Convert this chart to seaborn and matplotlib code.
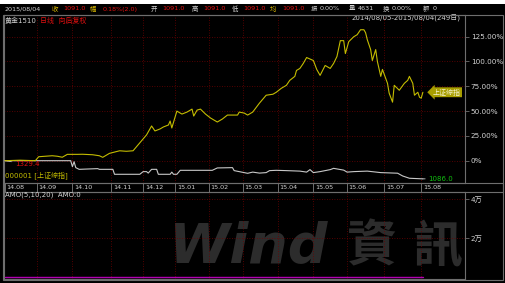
import numpy as np
import pandas as pd
import matplotlib
matplotlib.use("Agg")
import matplotlib.pyplot as plt
from matplotlib.patches import Rectangle
import seaborn as sns

# ---------------- data ----------------
month_labels = ["14.08", "14.09", "14.10", "14.11", "14.12", "15.01", "15.02",
                "15.03", "15.04", "15.05", "15.06", "15.07", "15.08"]
month_days = [0, 19, 40, 63, 82, 101, 121, 141, 162, 183, 203, 225, 247]

# 000001 上证综指, % change since 2014/08/05
sse_days = [0, 9, 18, 20, 24, 28, 31, 34, 37, 43, 46, 52, 56, 58, 62, 68, 72, 76,
            78, 81, 84, 87, 89, 92, 94, 97, 98, 99, 102, 105, 108, 111, 112, 114,
            116, 119, 122, 126, 129, 132, 138, 139, 142, 144, 147, 151, 155, 159,
            161, 164, 167, 169, 172, 173, 175, 177, 179, 183, 185, 187, 190, 193,
            195, 197, 199, 201, 202, 204, 207, 209, 211, 213, 214, 215, 217, 218,
            220, 221, 223, 224, 227, 228, 230, 231, 234, 237, 239, 240, 242, 243,
            245, 246, 247, 248]
sse_pct = [0, 0.5, 0, 4, 4.5, 5, 4.5, 3.5, 6.4, 6.4, 6.5, 6, 5, 3.4, 7.4, 10, 9.5, 10,
           14, 20, 26, 35, 30, 32, 34, 36, 40, 33, 50, 47, 49, 52, 45, 51,
           52, 47, 43, 39, 42, 46, 46, 49, 48, 46, 49, 58, 66, 67,
           69, 73, 76, 81, 85, 91, 93, 98, 104, 101, 92, 86, 96, 93,
           98, 105, 121, 121, 108, 120, 125, 127, 132, 132, 129, 122, 112, 101,
           112, 100, 85, 92, 78, 68, 59, 76, 71, 78, 81, 85, 78, 66,
           69, 64, 63, 69]

# 黄金1510, % change (base 1329.4)
gold_days = [0, 39, 40, 41, 42, 44, 55, 56, 64, 65, 80, 82, 84, 85, 87, 90, 91, 98,
             99, 100, 102, 104, 123, 126, 135, 136, 144, 147, 151, 155, 157, 161,
             167, 175, 179, 181, 183, 187, 193, 195, 201, 203, 207, 215, 223, 233,
             236, 240, 248]
gold_pct = [0, 0, -6, -1, -7, -8.7, -8, -8.7, -8.7, -13.7, -13.7, -11, -11, -12.5,
            -8.7, -8.7, -13.7, -13.7, -11.5, -13.7, -13.7, -9.7, -9.7, -7.3, -7,
            -10, -12.7, -11.5, -12.5, -12, -10, -9.7, -10, -10.5, -11.5, -9, -12,
            -11, -9, -7.7, -9.5, -11.5, -11, -10.5, -12, -12.6, -15.4, -17.7, -18.3]

amo_days = [0, 248]
amo_vals = [0, 0]

pct_ticks = [0, 25, 50, 75, 100, 125]
pct_tick_labels = ["0%", "25.00%", "50.00%", "75.00%", "100.00%", "125.00%"]
amo_ticks = [2, 4]
amo_tick_labels = ["2万", "4万"]

gold_start_label = "1329.4"
gold_end_label = "1086.0"

header_items = [("2015/08/04", 5, "w"), ("收", 52, "y"), ("1091.0", 63, "r"),
                ("幅", 90, "y"), ("0.18%(2.0)", 103, "r"), ("开", 151, "w"),
                ("1091.0", 162, "r"), ("高", 192, "w"), ("1091.0", 203, "r"),
                ("低", 232, "w"), ("1091.0", 243, "r"), ("均", 270, "y"),
                ("1091.0", 282, "r"), ("振", 311, "w"), ("0.00%", 320, "w"),
                ("量", 349, "w"), ("4631", 358, "w"), ("换", 383, "w"),
                ("0.00%", 392, "w"), ("额", 423, "w"), ("0", 433, "w")]

# ---------------- style ----------------
sns.set_theme(style="dark")
plt.rcParams["font.family"] = ["DejaVu Sans", "Noto Sans CJK SC"]
plt.rcParams["axes.unicode_minus"] = False

W, H = 505, 283
BG = "black"
EDGE = "#6e6e6e"
GRID = "#700000"
TXT = "#d2d2d2"
YEL = "#c4bc00"
RED = "#e01010"
cmap = {"w": TXT, "y": "#d8b800", "r": RED}

fig = plt.figure(figsize=(W / 100, H / 100), dpi=100, facecolor=BG)


def fr(x0, y0, x1, y1):
    return [x0 / W, 1 - y1 / H, (x1 - x0) / W, (y1 - y0) / H]


def px_to_day(px):
    return (px - 5) / 1.685


ax = fig.add_axes(fr(4, 15, 464.5, 183))
band = fig.add_axes(fr(4, 183, 503, 191.5))
low = fig.add_axes(fr(4, 191.5, 464.5, 279))

xl = (px_to_day(4), px_to_day(464.5))

for a in (ax, band, low):
    a.set_facecolor("none")
    for s in a.spines.values():
        s.set_color(EDGE)
        s.set_linewidth(0.8)

# ---- main panel ----
sse_df = pd.DataFrame({"day": sse_days, "pct": sse_pct})
gold_df = pd.DataFrame({"day": gold_days, "pct": gold_pct})
sns.lineplot(data=gold_df, x="day", y="pct", ax=ax, color="#c8c8c8", lw=0.8,
             estimator=None, sort=False, zorder=3)
sns.lineplot(data=sse_df, x="day", y="pct", ax=ax, color=YEL, lw=0.8,
             estimator=None, sort=False, zorder=4)
ax.set_xlim(*xl)
ax.set_ylim((160.7 - 183) * 1.008, (160.7 - 15) * 1.008)
ax.set_xticks(month_days[1:])
ax.set_yticks(pct_ticks)
ax.set_yticklabels(pct_tick_labels)
ax.yaxis.tick_right()
ax.tick_params(axis="y", colors=EDGE, labelcolor=TXT, labelsize=5.2, length=3,
               width=0.6, pad=1.5)
ax.tick_params(axis="x", length=0, labelbottom=False)
ax.grid(True, color=GRID, ls=(0, (1, 2)), lw=0.6)
ax.set_xlabel("")
ax.set_ylabel("")

ax.annotate(gold_start_label, xy=(gold_days[0], gold_pct[0]), xytext=(7, -2.5),
            textcoords="offset points", color=RED, fontsize=5, va="center",
            arrowprops=dict(arrowstyle="-", color="#c8c8c8", lw=0.6,
                            shrinkA=0, shrinkB=0))
ax.annotate(gold_end_label, xy=(gold_days[-1], gold_pct[-1]), xytext=(4, 0),
            textcoords="offset points", color="#10c010", fontsize=5, va="center",
            arrowprops=dict(arrowstyle="-", color="#c8c8c8", lw=0.6,
                            shrinkA=0, shrinkB=0))
ax.annotate("上证综指", xy=(sse_days[-1], sse_pct[-1]), xytext=(7, 0),
            textcoords="offset points", color="#f4f4d0", fontsize=5, va="center",
            bbox=dict(boxstyle="larrow,pad=0.2", fc="#a89e00", ec="none"))
ax.text(0.002, 0.045, "000001 [上证综指]", transform=ax.transAxes, color=YEL,
        fontsize=5, va="center", ha="left")

# ---- month band ----
band.set_xlim(px_to_day(4), px_to_day(503))
band.set_ylim(0, 1)
band.set_xticks([])
band.set_yticks([])
for d, lab in zip(month_days, month_labels):
    band.axvline(d, color=EDGE, lw=0.7)
    band.annotate(lab, xy=(d, 0.45), xycoords=("data", "axes fraction"),
                  xytext=(1.2, 0), textcoords="offset points", color=TXT,
                  fontsize=4.6, va="center", ha="left")

# ---- lower panel (AMO) ----
amo_df = pd.DataFrame({"day": amo_days, "amo": amo_vals})
sns.lineplot(data=amo_df, x="day", y="amo", ax=low, color="#b000b0", lw=1.0,
             estimator=None, sort=False, zorder=3)
low.set_xlim(*xl)
low.set_ylim((277 - 279) / 19.6, (277 - 191.5) / 19.6)
low.set_xticks(month_days[1:])
low.set_yticks(amo_ticks)
low.set_yticklabels(amo_tick_labels)
low.yaxis.tick_right()
low.tick_params(axis="y", colors=EDGE, labelcolor=TXT, labelsize=5.2, length=3,
                width=0.6, pad=1.5)
low.tick_params(axis="x", length=0, labelbottom=False)
low.grid(True, color=GRID, ls=(0, (1, 2)), lw=0.6)
low.set_xlabel("")
low.set_ylabel("")

# watermark
wm = "#2c2c2c"
fig.text(168 / W, 1 - 247 / H, "Wind", color=wm, fontsize=40, fontweight="bold",
         style="italic", va="center", ha="left", zorder=0, family="DejaVu Sans")
fig.text(372 / W, 1 - 247 / H, "資", color=wm, fontsize=36, fontweight="bold",
         va="center", ha="center", zorder=0, family="Noto Sans CJK TC")
fig.text(437 / W, 1 - 247 / H, "訊", color=wm, fontsize=36, fontweight="bold",
         va="center", ha="center", zorder=0, family="Noto Sans CJK TC")
for a in (ax, band, low):
    a.set_zorder(2)

fig.text(5 / W, 1 - 195 / H, "AMO(5,10,20)  AMO:0", color=TXT, fontsize=5,
         va="center", ha="left", zorder=5)

# ---- header ----
fig.patches.append(Rectangle((0, 1 - 4 / H), 1, 4 / H, transform=fig.transFigure,
                             fc="white", ec="none", zorder=1))
fig.patches.append(Rectangle((3 / W, 1 - 279.5 / H), 500 / W, 264.5 / H,
                             transform=fig.transFigure, fill=False, ec=EDGE,
                             lw=0.8, zorder=6))
for txt, xp, c in header_items:
    fig.text(xp / W, 1 - 9 / H, txt, color=cmap[c], fontsize=4.6, va="center",
             ha="left")
fig.text(5 / W, 1 - 20 / H, "黄金1510", color=TXT, fontsize=5, va="center", ha="left")
fig.text(40 / W, 1 - 20 / H, "日线  向后复权", color=RED, fontsize=5, va="center",
         ha="left")
fig.text(461 / W, 1 - 18.5 / H, "2014/08/05-2015/08/04(249日)", color=TXT,
         fontsize=5, va="center", ha="right")

fig.savefig("out.png", dpi=100, facecolor=BG)
